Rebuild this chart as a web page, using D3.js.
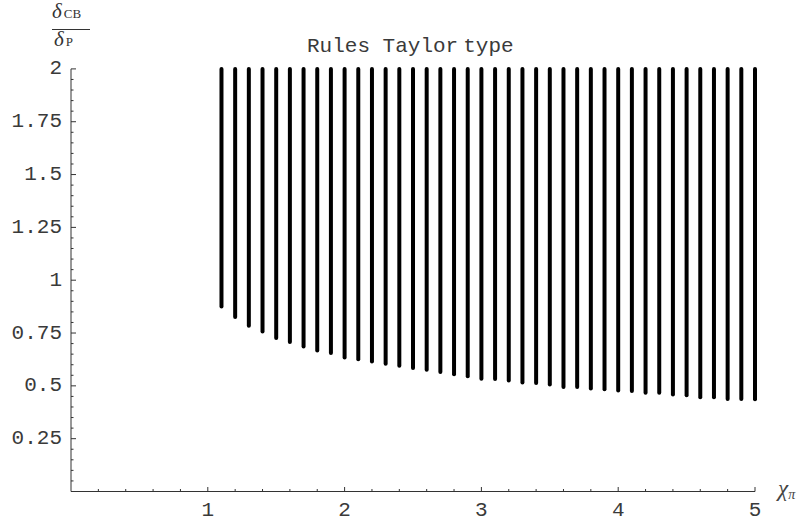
<!DOCTYPE html>
<html><head><meta charset="utf-8">
<script src="https://cdn.jsdelivr.net/npm/d3@7"></script>
<style>body{margin:0;background:#fff}</style>
</head><body>
<svg id="c" width="801" height="522"></svg>
<script>
const xValues = [1.1,1.2,1.3,1.4,1.5,1.6,1.7,1.8,1.9,2.0,2.1,2.2,2.3,2.4,2.5,2.6,2.7,2.8,2.9,3.0,3.1,3.2,3.3,3.4,3.5,3.6,3.7,3.8,3.9,4.0,4.1,4.2,4.3,4.4,4.5,4.6,4.7,4.8,4.9,5.0];
const lowValues = [0.876,0.826,0.785,0.757,0.726,0.707,0.686,0.667,0.656,0.634,0.626,0.615,0.604,0.595,0.585,0.576,0.566,0.555,0.546,0.534,0.533,0.525,0.516,0.514,0.506,0.495,0.495,0.487,0.484,0.478,0.476,0.467,0.467,0.459,0.456,0.446,0.446,0.438,0.438,0.437];
const highValue = 2;
const xTicks = [1,2,3,4,5];
const yTicks = [0.25,0.5,0.75,1,1.25,1.5,1.75,2];
const yTickLabels = ["0.25","0.5","0.75","1","1.25","1.5","1.75","2"];
const title = "Rules Taylor type";

const svg = d3.select("#c");
const x = d3.scaleLinear().domain([0,5]).range([71,755]);
const y = d3.scaleLinear().domain([0,2]).range([491.5,68.9]);
const mono = "'Liberation Mono','Courier New',monospace";
const axisCol = "#333";
const txtCol = "#3a3a3a";

// bars
svg.append("g").selectAll("line").data(xValues).join("line")
  .attr("x1", d=>x(d)).attr("x2", d=>x(d))
  .attr("y1", (d,i)=>y(lowValues[i])).attr("y2", y(highValue))
  .attr("stroke","#000").attr("stroke-width",4).attr("stroke-linecap","round");

// x axis
const xMinor = d3.range(0.2,5.001,0.2).map(v=>+v.toFixed(2)).filter(v=>!xTicks.some(t=>Math.abs(t-v)<1e-6));
const gx = svg.append("g").attr("transform",`translate(0,${y(0)})`);
gx.append("line").attr("x1",x(0)).attr("x2",x(5)).attr("stroke",axisCol).attr("stroke-width",1);
gx.selectAll("line.mj").data(xTicks).join("line").attr("class","mj")
  .attr("x1",d=>x(d)).attr("x2",d=>x(d)).attr("y1",0).attr("y2",-4.5).attr("stroke",axisCol);
gx.selectAll("line.mn").data(xMinor).join("line").attr("class","mn")
  .attr("x1",d=>x(d)).attr("x2",d=>x(d)).attr("y1",0).attr("y2",-2.5).attr("stroke",axisCol);
gx.selectAll("text").data(xTicks).join("text")
  .attr("x",d=>x(d)).attr("y",24.5).attr("text-anchor","middle")
  .attr("font-family",mono).attr("font-size",21).attr("fill",txtCol).text(d=>d);

// y axis
const yMinor = d3.range(0.05,2.0001,0.05).map(v=>+v.toFixed(2)).filter(v=>!yTicks.some(t=>Math.abs(t-v)<1e-6));
const gy = svg.append("g").attr("transform",`translate(${x(0)},0)`);
gy.append("line").attr("y1",y(0)).attr("y2",y(2)).attr("stroke",axisCol).attr("stroke-width",1);
gy.selectAll("line.mj").data(yTicks).join("line").attr("class","mj")
  .attr("y1",d=>y(d)).attr("y2",d=>y(d)).attr("x1",0).attr("x2",5).attr("stroke",axisCol);
gy.selectAll("line.mn").data(yMinor).join("line").attr("class","mn")
  .attr("y1",d=>y(d)).attr("y2",d=>y(d)).attr("x1",0).attr("x2",2.5).attr("stroke",axisCol);
gy.selectAll("text").data(yTicks).join("text")
  .attr("x",-9).attr("y",d=>y(d)).attr("text-anchor","end").attr("dominant-baseline","central")
  .attr("font-family",mono).attr("font-size",21).attr("fill",txtCol).text((d,i)=>yTickLabels[i]);

// title
const words = title.split(" ");
const t = svg.append("text").attr("x",307).attr("y",52)
  .attr("font-family",mono).attr("font-size",21).attr("fill",txtCol);
t.append("tspan").text(words[0]+" "+words[1]);
t.append("tspan").attr("dx",5).text(words[2]);

// y label fraction
const serif = "'Liberation Serif','Times New Roman',serif";
const yl = svg.append("g").attr("fill","#333").attr("font-family",serif);
const n = yl.append("text").attr("x",52).attr("y",18).attr("font-size",21);
n.append("tspan").attr("font-style","italic").text("δ");
n.append("tspan").attr("font-size",13).attr("dx",2).text("CB");
yl.append("line").attr("x1",52).attr("x2",90).attr("y1",29.5).attr("y2",29.5).attr("stroke","#333").attr("stroke-width",1);
const dn = yl.append("text").attr("x",54).attr("y",46).attr("font-size",21);
dn.append("tspan").attr("font-style","italic").text("δ");
dn.append("tspan").attr("font-size",13).attr("dx",2).text("P");

// x label
const xl = svg.append("text").attr("x",778).attr("y",496).attr("font-family",serif).attr("fill","#444").attr("font-size",23);
xl.append("tspan").attr("font-style","italic").text("χ");
xl.append("tspan").attr("font-style","italic").attr("font-size",14).attr("dy",3).text("π");
</script>
</body></html>
